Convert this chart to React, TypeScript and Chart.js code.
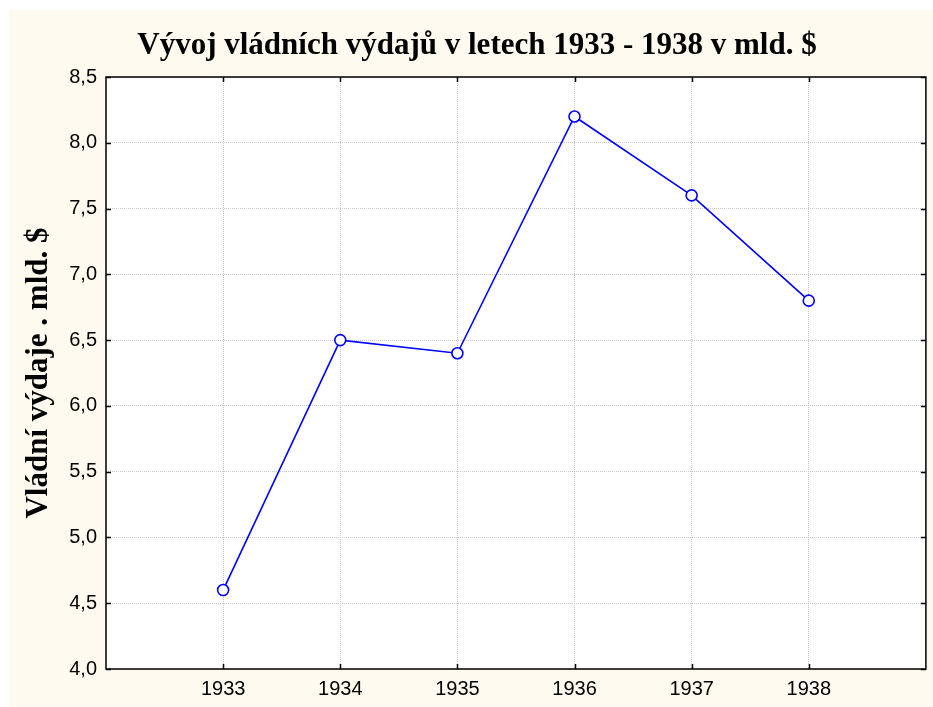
import { useEffect, useRef } from 'react';
import { Chart, registerables } from 'chart.js';

Chart.register(...registerables);

const years = [1933, 1934, 1935, 1936, 1937, 1938];
const spending = [4.6, 6.5, 6.4, 8.2, 7.6, 6.8];
const yMin = 4;
const yMax = 8.5;
const yStep = 0.5;
const xMin = 1932;
const xMax = 1939;
const titleText = 'Vývoj vládních výdajů v letech 1933 - 1938 v mld. $';
const yTitleText = 'Vládní výdaje . mld. $';

const CREAM = '#fffaf0';
const GRID = '#c8c8c8';

const framePlugin = {
  id: 'framePlugin',
  beforeDraw(chart: any) {
    const { ctx, chartArea: a, width, height } = chart;
    ctx.save();
    ctx.fillStyle = CREAM;
    ctx.fillRect(0, 0, width, height);
    ctx.fillStyle = '#ffffff';
    ctx.fillRect(a.left, a.top, a.right - a.left, a.bottom - a.top);
    ctx.restore();
  },
  afterDraw(chart: any) {
    const { ctx, chartArea: a } = chart;
    const xs = chart.scales.x;
    const ys = chart.scales.y;
    ctx.save();
    ctx.setLineDash([]);
    ctx.strokeStyle = '#000000';
    ctx.lineWidth = 1.5;
    ctx.strokeRect(a.left, a.top, a.right - a.left, a.bottom - a.top);
    const tl = 5;
    ctx.beginPath();
    xs.ticks.forEach((t: any) => {
      const px = Math.round(xs.getPixelForValue(t.value)) + 0.5;
      ctx.moveTo(px, a.bottom);
      ctx.lineTo(px, a.bottom - tl);
      ctx.moveTo(px, a.top);
      ctx.lineTo(px, a.top + tl);
    });
    ys.ticks.forEach((t: any) => {
      const py = Math.round(ys.getPixelForValue(t.value)) + 0.5;
      ctx.moveTo(a.left, py);
      ctx.lineTo(a.left + tl, py);
      ctx.moveTo(a.right, py);
      ctx.lineTo(a.right - tl, py);
    });
    ctx.stroke();

    ctx.fillStyle = '#000000';
    ctx.font = 'bold 31px "Liberation Serif", "Times New Roman", serif';
    ctx.textAlign = 'center';
    ctx.textBaseline = 'alphabetic';
    ctx.fillText(titleText, 468, 44);

    ctx.translate(38, (a.top + a.bottom) / 2);
    ctx.rotate(-Math.PI / 2);
    ctx.fillText(yTitleText, 0, 0);
    ctx.restore();
  },
};

export default function App() {
  const ref = useRef<HTMLCanvasElement | null>(null);
  useEffect(() => {
    if (!ref.current) return;
    const chart = new Chart(ref.current, {
      type: 'line',
      data: {
        datasets: [
          {
            data: years.map((y, i) => ({ x: y, y: spending[i] })),
            borderColor: '#0000ff',
            borderWidth: 1.6,
            backgroundColor: '#ffffff',
            pointBackgroundColor: '#ffffff',
            pointBorderColor: '#0000ff',
            pointBorderWidth: 1.6,
            pointRadius: 5.5,
            tension: 0,
          },
        ],
      },
      options: {
        animation: false,
        responsive: false,
        maintainAspectRatio: false,
        layout: { padding: { top: 67, right: 1, left: 0, bottom: 0 } },
        plugins: {
          legend: { display: false },
          tooltip: { enabled: false },
          title: { display: false },
        },
        scales: {
          x: {
            type: 'linear',
            min: xMin,
            max: xMax,
            afterBuildTicks: (scale: any) => {
              scale.ticks = years.map((v) => ({ value: v }));
            },
            afterFit: (scale: any) => {
              scale.height = 38;
            },
            ticks: {
              color: '#000000',
              font: { family: '"Liberation Sans", Arial, sans-serif', size: 20 },
              padding: 8,
              maxRotation: 0,
              autoSkip: false,
              callback: (v: any) => String(v),
            },
            grid: { color: GRID, lineWidth: 1, drawTicks: false },
            border: { display: false, dash: [1, 1] },
          },
          y: {
            type: 'linear',
            min: yMin,
            max: yMax,
            ticks: {
              stepSize: yStep,
              color: '#000000',
              font: { family: '"Liberation Sans", Arial, sans-serif', size: 20 },
              padding: 9,
              callback: (v: any) => Number(v).toFixed(1).replace('.', ','),
            },
            afterFit: (scale: any) => {
              scale.width = 97;
            },
            grid: { color: GRID, lineWidth: 1, drawTicks: false },
            border: { display: false, dash: [1, 1] },
          },
        },
      },
      plugins: [framePlugin],
    });
    return () => chart.destroy();
  }, []);
  return (
    <div style={{ position: 'absolute', left: 9, top: 10, width: 924, height: 697 }}>
      <canvas ref={ref} width={924} height={697} style={{ display: 'block', width: 924, height: 697 }} />
    </div>
  );
}
